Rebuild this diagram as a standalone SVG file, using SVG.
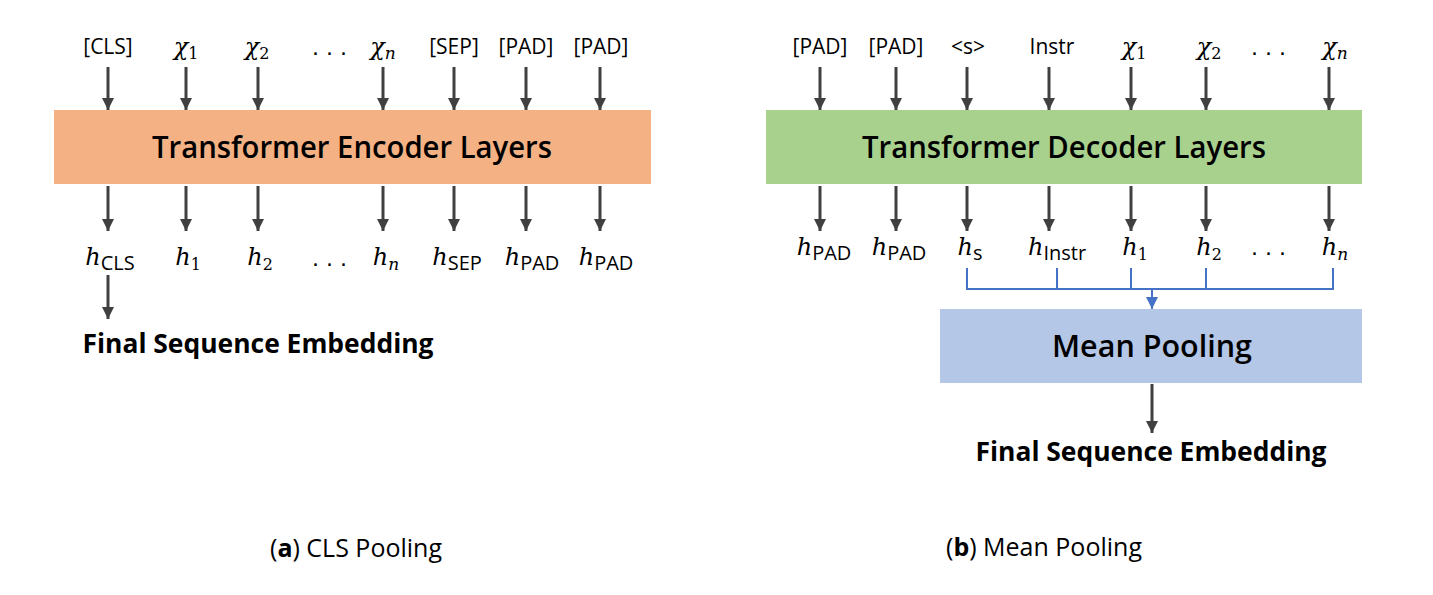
<svg xmlns="http://www.w3.org/2000/svg" width="1433" height="595" viewBox="0 0 1433 595">
<defs>
<marker id="ah" markerWidth="12" markerHeight="12" refX="10" refY="5" orient="auto" markerUnits="userSpaceOnUse" viewBox="0 0 10 10">
<path d="M0,0 L10,5 L0,10 Z" fill="#404040"/>
</marker>
<marker id="ahb" markerWidth="12" markerHeight="12" refX="10" refY="5" orient="auto" markerUnits="userSpaceOnUse" viewBox="0 0 10 10">
<path d="M0,0 L10,5 L0,10 Z" fill="#4472C4"/>
</marker>
<style>
.arr{stroke:#404040;stroke-width:3;fill:none}
.tok{font-family:"Open Sans","Noto Sans",sans-serif;font-size:21px;fill:#000;text-anchor:middle}
.math{font-family:"DejaVu Serif","Liberation Serif",serif;font-style:italic;font-size:24px;fill:#000;text-anchor:middle}
.sub{font-family:"DejaVu Serif","Liberation Serif",serif;font-style:normal;font-size:16px}
.subi{font-family:"DejaVu Serif","Liberation Serif",serif;font-style:italic;font-size:17px}
.subs{font-family:"Open Sans","Noto Sans",sans-serif;font-style:normal;font-size:20px}
.dots{font-family:"DejaVu Sans",sans-serif;font-size:22px;fill:#000;text-anchor:middle;letter-spacing:7px}
.title{font-family:"Open Sans","Noto Sans",sans-serif;font-size:30px;fill:#000;text-anchor:middle;font-weight:600}
.bold{font-family:"Open Sans","Noto Sans",sans-serif;font-weight:bold;font-size:26px;fill:#000;text-anchor:middle}
.cap{font-family:"Open Sans","Noto Sans",sans-serif;font-size:25px;fill:#000;text-anchor:middle}
.blue{stroke:#4472C4;stroke-width:2;fill:none}
</style>
</defs>

<g id="encoder">
<rect x="54" y="110" width="597" height="74" fill="#F4B183"/>
<text class="title" x="352" y="158" textLength="400" lengthAdjust="spacingAndGlyphs">Transformer Encoder Layers</text>
</g>
<g id="decoder">
<rect x="766" y="110" width="596" height="74" fill="#A9D18E"/>
<text class="title" x="1064" y="158" textLength="404" lengthAdjust="spacingAndGlyphs">Transformer Decoder Layers</text>
</g>
<g id="meanpool">
<rect x="940" y="309" width="422" height="74" fill="#B4C7E7"/>
<text class="title" x="1152" y="357" textLength="200" lengthAdjust="spacingAndGlyphs">Mean Pooling</text>
</g>

<g id="left-inputs">
<text class="tok" x="108" y="54">[CLS]</text>
<text class="math" x="186" y="55">χ<tspan class="sub" dy="4">1</tspan></text>
<text class="math" x="257" y="55">χ<tspan class="sub" dy="4">2</tspan></text>
<text class="dots" x="333" y="55">...</text>
<text class="math" x="383" y="55">χ<tspan class="subi" dy="4">n</tspan></text>
<text class="tok" x="454" y="54">[SEP]</text>
<text class="tok" x="526" y="54">[PAD]</text>
<text class="tok" x="601" y="54">[PAD]</text>
</g>
<g id="left-outputs">
<text class="math" x="110" y="265">h<tspan class="subs" dy="5">CLS</tspan></text>
<text class="math" x="188" y="265">h<tspan class="sub" dy="5">1</tspan></text>
<text class="math" x="260" y="265">h<tspan class="sub" dy="5">2</tspan></text>
<text class="dots" x="333" y="266">...</text>
<text class="math" x="386" y="265">h<tspan class="subi" dy="5">n</tspan></text>
<text class="math" x="457" y="265">h<tspan class="subs" dy="5">SEP</tspan></text>
<text class="math" x="532" y="265">h<tspan class="subs" dy="5">PAD</tspan></text>
<text class="math" x="606" y="265">h<tspan class="subs" dy="5">PAD</tspan></text>
</g>
<g id="left-final">
<text class="bold" x="258" y="353" textLength="351" lengthAdjust="spacingAndGlyphs">Final Sequence Embedding</text>
</g>

<g id="right-inputs">
<text class="tok" x="820" y="54">[PAD]</text>
<text class="tok" x="896" y="54">[PAD]</text>
<text class="tok" x="968" y="54">&lt;s&gt;</text>
<text class="tok" x="1052" y="54">Instr</text>
<text class="math" x="1134" y="55">χ<tspan class="sub" dy="4">1</tspan></text>
<text class="math" x="1209" y="55">χ<tspan class="sub" dy="4">2</tspan></text>
<text class="dots" x="1272" y="55">...</text>
<text class="math" x="1335" y="55">χ<tspan class="subi" dy="4">n</tspan></text>
</g>
<g id="right-outputs">
<text class="math" x="824" y="255">h<tspan class="subs" dy="5">PAD</tspan></text>
<text class="math" x="899" y="255">h<tspan class="subs" dy="5">PAD</tspan></text>
<text class="math" x="970" y="255">h<tspan class="subs" dy="5">s</tspan></text>
<text class="math" x="1057" y="255">h<tspan class="subs" dy="5">Instr</tspan></text>
<text class="math" x="1135" y="255">h<tspan class="sub" dy="5">1</tspan></text>
<text class="math" x="1209" y="255">h<tspan class="sub" dy="5">2</tspan></text>
<text class="dots" x="1272" y="255">...</text>
<text class="math" x="1335" y="255">h<tspan class="subi" dy="5">n</tspan></text>
</g>
<g id="right-final">
<text class="bold" x="1151" y="461" textLength="351" lengthAdjust="spacingAndGlyphs">Final Sequence Embedding</text>
</g>

<g id="captions">
<text class="cap" x="356" y="557">(<tspan font-weight="bold">a</tspan>) CLS Pooling</text>
<text class="cap" x="1044" y="556">(<tspan font-weight="bold">b</tspan>) Mean Pooling</text>
</g>

<g id="connectors">
<line class="arr" x1="108" y1="67" x2="108" y2="110" marker-end="url(#ah)"/>
<line class="arr" x1="186" y1="67" x2="186" y2="110" marker-end="url(#ah)"/>
<line class="arr" x1="258" y1="67" x2="258" y2="110" marker-end="url(#ah)"/>
<line class="arr" x1="383" y1="67" x2="383" y2="110" marker-end="url(#ah)"/>
<line class="arr" x1="454" y1="67" x2="454" y2="110" marker-end="url(#ah)"/>
<line class="arr" x1="526" y1="67" x2="526" y2="110" marker-end="url(#ah)"/>
<line class="arr" x1="600" y1="67" x2="600" y2="110" marker-end="url(#ah)"/>

<line class="arr" x1="108" y1="186" x2="108" y2="231" marker-end="url(#ah)"/>
<line class="arr" x1="186" y1="186" x2="186" y2="231" marker-end="url(#ah)"/>
<line class="arr" x1="258" y1="186" x2="258" y2="231" marker-end="url(#ah)"/>
<line class="arr" x1="383" y1="186" x2="383" y2="231" marker-end="url(#ah)"/>
<line class="arr" x1="454" y1="186" x2="454" y2="231" marker-end="url(#ah)"/>
<line class="arr" x1="526" y1="186" x2="526" y2="231" marker-end="url(#ah)"/>
<line class="arr" x1="600" y1="186" x2="600" y2="231" marker-end="url(#ah)"/>

<line class="arr" x1="108" y1="275" x2="108" y2="319" marker-end="url(#ah)"/>

<line class="arr" x1="820" y1="67" x2="820" y2="110" marker-end="url(#ah)"/>
<line class="arr" x1="896" y1="67" x2="896" y2="110" marker-end="url(#ah)"/>
<line class="arr" x1="967" y1="67" x2="967" y2="110" marker-end="url(#ah)"/>
<line class="arr" x1="1049" y1="67" x2="1049" y2="110" marker-end="url(#ah)"/>
<line class="arr" x1="1131" y1="67" x2="1131" y2="110" marker-end="url(#ah)"/>
<line class="arr" x1="1206" y1="67" x2="1206" y2="110" marker-end="url(#ah)"/>
<line class="arr" x1="1329" y1="67" x2="1329" y2="110" marker-end="url(#ah)"/>

<line class="arr" x1="820" y1="186" x2="820" y2="231" marker-end="url(#ah)"/>
<line class="arr" x1="896" y1="186" x2="896" y2="231" marker-end="url(#ah)"/>
<line class="arr" x1="967" y1="186" x2="967" y2="231" marker-end="url(#ah)"/>
<line class="arr" x1="1049" y1="186" x2="1049" y2="231" marker-end="url(#ah)"/>
<line class="arr" x1="1131" y1="186" x2="1131" y2="231" marker-end="url(#ah)"/>
<line class="arr" x1="1206" y1="186" x2="1206" y2="231" marker-end="url(#ah)"/>
<line class="arr" x1="1329" y1="186" x2="1329" y2="231" marker-end="url(#ah)"/>

<path class="blue" d="M967,268 V289 H1333 V268 M1057,268 V289 M1131,268 V289 M1206,268 V289"/>
<line class="blue" x1="1152" y1="289" x2="1152" y2="309" marker-end="url(#ahb)"/>

<line class="arr" x1="1152" y1="384" x2="1152" y2="433" marker-end="url(#ah)"/>
</g>
</svg>
